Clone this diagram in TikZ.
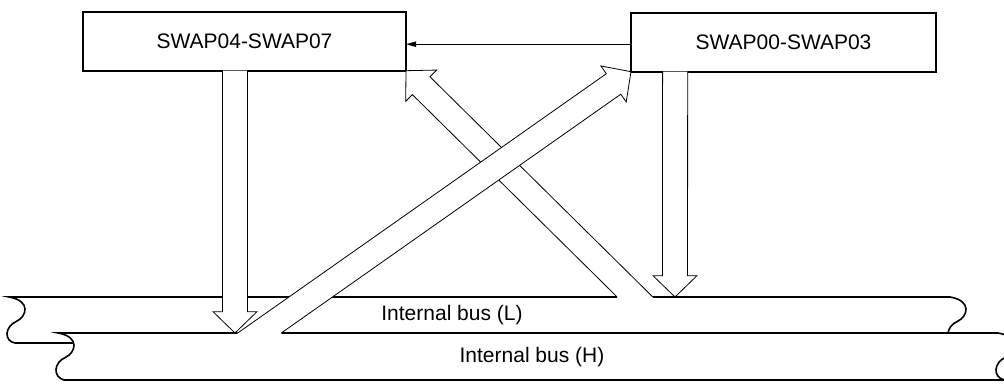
\documentclass[tikz,border=0pt]{standalone}
\usepackage{fontspec}
\setmainfont{Liberation Sans}
\usetikzlibrary{calc,arrows.meta}

\newcommand{\blkshaft}{9.4pt}
\newcommand{\blkwing}{16.5pt}
\newcommand{\blklen}{16pt}
% corner points of a hollow arrow: #1 name, #2 tail (on a straight edge), #3 tip
\newcommand{\blkpoints}[3]{%
  \coordinate (#1c) at ([xshift=10pt]#2);
  \coordinate (#1sa) at ($(#2)!\blkshaft!90:(#3)$);
  \coordinate (#1sb) at ($(#2)!\blkshaft!-90:(#3)$);
  \coordinate (#1ba) at ($(#3)!\blklen!(#2)!\blkshaft!-90:(#2)$);
  \coordinate (#1bb) at ($(#3)!\blklen!(#2)!\blkshaft!90:(#2)$);
  \coordinate (#1wa) at ($(#3)!\blklen!(#2)!\blkwing!-90:(#2)$);
  \coordinate (#1wb) at ($(#3)!\blklen!(#2)!\blkwing!90:(#2)$);
  \coordinate (#1ta) at (intersection of #1sa--#1ba and #2--#1c);
  \coordinate (#1tb) at (intersection of #1sb--#1bb and #2--#1c);
  \coordinate (#1tip) at (#3);
}
\newcommand{\blkarrow}[1]{%
  \draw[hollow] (#1ta)-- (#1ba)-- (#1wa)-- (#1tip)-- (#1wb)-- (#1bb)-- (#1tb);
}

\begin{document}
\begin{tikzpicture}[x=0.75pt,y=-0.75pt,line join=miter,
  box/.style={draw,line width=1.4pt,fill=white,inner sep=0pt,outer sep=0pt,minimum height=44.25pt,font=\fontsize{15.75}{18}\selectfont},
  hollow/.style={draw,fill=white,line width=0.6pt},
  bus/.style={line width=1.2pt},
  buslabel/.style={font=\fontsize{15.75}{18}\selectfont}]
\useasboundingbox (0,0) rectangle (1004,383);
\clip (0,0) rectangle (1004,383);

\node[box,minimum width=242.25pt] (swap47) at (244.5,41.2) {SWAP04-SWAP07};
\node[box,minimum width=228.75pt] (swap03) at (783.5,42.2) {SWAP00-SWAP03};

\coordinate (v1tip) at (235,333);
\coordinate (v1tail) at (v1tip |- swap47.south);
\coordinate (v2tip) at (675,297);
\coordinate (v2tail) at (v2tip |- swap03.south);
\coordinate (d1tail) at (259.5,333);
\coordinate (d2tail) at (635,297);
\blkpoints{v1}{v1tail}{v1tip}
\blkpoints{v2}{v2tail}{v2tip}
\blkpoints{d1}{d1tail}{swap03.south west}
\blkpoints{d2}{d2tail}{swap47.south east}

% internal bus (L)
\fill[white] (9,297)-- (950,297) .. controls (973,301) and (967,317) .. (958,321) .. controls (945,327) and (945,341) .. (956,343)
  -- (15,343) .. controls (4,341) and (4,327) .. (17,321) .. controls (26,317) and (32,301) .. (9,297) -- cycle;
\draw[bus] (d2ta)-- (9,297) .. controls (32,301) and (26,317) .. (17,321) .. controls (4,327) and (4,341) .. (15,343)
  -- (956,343) .. controls (945,341) and (945,327) .. (958,321) .. controls (967,317) and (973,301) .. (950,297) -- (d2tb);
% internal bus (H)
\fill[white] (58,333)-- (998,333) .. controls (1021,337) and (1015,353) .. (1006,357) .. controls (993,363) and (993,377) .. (1004,380)
  -- (64,380) .. controls (53,377) and (53,363) .. (66,357) .. controls (75,353) and (81,337) .. (58,333) -- cycle;
\draw[bus] (d1ta)-- (58,333) .. controls (81,337) and (75,353) .. (66,357) .. controls (53,363) and (53,377) .. (64,380)
  -- (1004,380) .. controls (993,377) and (993,363) .. (1006,357) .. controls (1015,353) and (1021,337) .. (998,333) -- (d1tb);

\node[buslabel] (busl) at (452,315) {Internal bus (L)};
\node[buslabel] (bush) at (532,357) {Internal bus (H)};

\blkarrow{v1}
\blkarrow{v2}
\blkarrow{d2}
\blkarrow{d1}

\draw[line width=0.6pt,-{Triangle[length=7.5pt,width=4pt]}] ([yshift=-1.5pt]swap03.west)-- ([yshift=-1.5pt]swap03.west -| swap47.east);
\end{tikzpicture}
\end{document}
